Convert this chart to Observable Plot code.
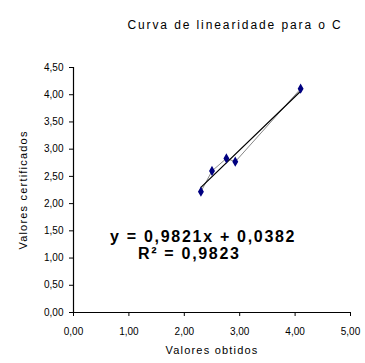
<!DOCTYPE html>
<html><head><meta charset="utf-8">
<script src="https://cdn.jsdelivr.net/npm/d3@7"></script>
<script src="https://cdn.jsdelivr.net/npm/@observablehq/plot@0.6"></script>
<style>
body{margin:0;background:#fff;font-family:"Liberation Sans",Arial,sans-serif;}
text[aria-label="equation"]{letter-spacing:1.7px;}
text[aria-label="title"]{letter-spacing:1.9px;}
g[aria-label="x-axis label"] text, g[aria-label="y-axis label"] text{letter-spacing:1.2px;}
</style>
</head><body><div id="chart"></div>
<script>
const obtidos = [2.30, 2.50, 2.76, 2.92, 4.10];
const certificados = [2.22, 2.60, 2.83, 2.77, 4.11];
const slope = 0.9821, intercept = 0.0382;
const xTicks = [0, 1, 2, 3, 4, 5];
const yTicks = [0, 0.5, 1, 1.5, 2, 2.5, 3, 3.5, 4, 4.5];
const title = "Curva de linearidade para o C";
const eqLabels = ["y = 0,9821x + 0,0382", "R\u00B2 = 0,9823"];
const eqX = [2.34, 2.09];
const eqY = [1.38, 1.07];

const pts = obtidos.map((x, i) => ({x, y: certificados[i]}));
const xmin = d3.min(obtidos), xmax = d3.max(obtidos);
const trend = [xmin, xmax].map(x => ({x, y: slope * x + intercept}));
const eq = eqLabels.map((t, i) => ({t, x: eqX[i], y: eqY[i]}));
const fmt = d => d3.format(".2f")(d).replace(".", ",");

const chart = Plot.plot({
  width: 365, height: 363,
  marginLeft: 73, marginRight: 15, marginTop: 67, marginBottom: 51,
  style: {fontFamily: "Liberation Sans, Arial, sans-serif", fontSize: "10px", color: "#000", background: "#fff"},
  x: {domain: [0, 5], ticks: xTicks, tickFormat: fmt, tickSize: 4, tickPadding: 11, label: "Valores obtidos", labelAnchor: "center", labelOffset: 41, labelArrow: "none"},
  y: {domain: [0, 4.5], ticks: yTicks, tickFormat: fmt, tickSize: 4, tickPadding: 6, label: "Valores certificados", labelAnchor: "center", labelOffset: 54, labelArrow: "none"},
  marks: [
    Plot.ruleX([0], {stroke: "#000", strokeWidth: 1.2}),
    Plot.ruleY([0], {stroke: "#000", strokeWidth: 1.2}),
    Plot.line(pts, {x: "x", y: "y", stroke: "#888", strokeWidth: 1}),
    Plot.line(trend, {x: "x", y: "y", stroke: "#000", strokeWidth: 1.2}),
    Plot.dot(pts, {x: "x", y: "y", symbol: "diamond", r: 2.2, fill: "#000080", stroke: "#000080"}),
    Plot.text(eq, {x: "x", y: "y", text: "t", fontSize: 16, fontWeight: "bold", fill: "#000", ariaLabel: () => "equation"}),
    Plot.text([title], {frameAnchor: "top", dx: 23, dy: -47, fontSize: 12, fill: "#000", ariaLabel: () => "title"})
  ]
});
chart.querySelectorAll('g[aria-label="x-axis label"] text, g[aria-label="y-axis label"] text').forEach(t => t.setAttribute("font-size", "11"));
document.getElementById("chart").append(chart);
</script></body></html>
